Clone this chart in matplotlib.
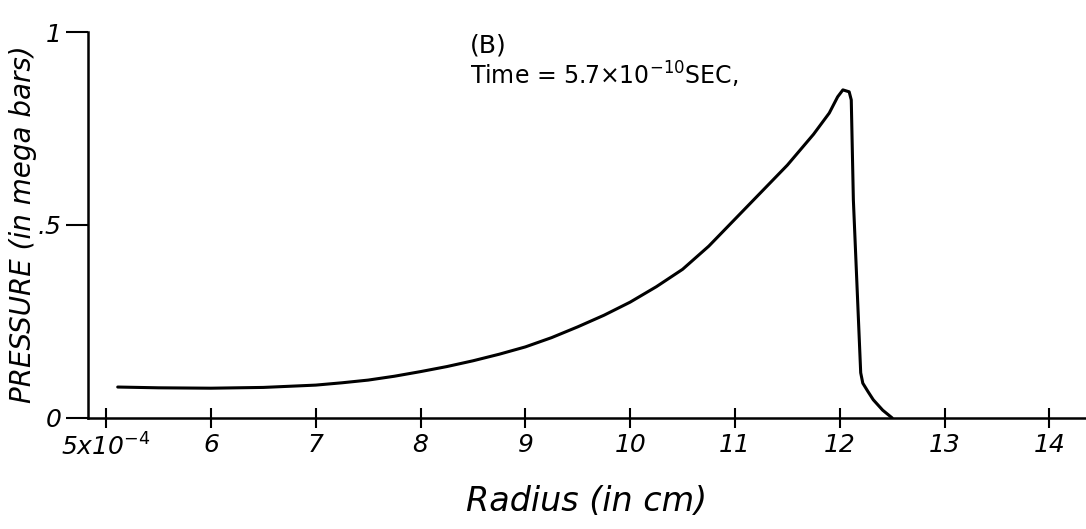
import matplotlib
matplotlib.use("Agg")
import matplotlib.pyplot as plt

# Pressure profile behind the shock front, radius in cm, pressure in megabars
radius = [5.11, 5.5, 6.0, 6.5, 7.0, 7.25, 7.5, 7.75, 8.0, 8.25, 8.5, 8.75,
          9.0, 9.25, 9.5, 9.75, 10.0, 10.25, 10.5, 10.75, 11.0, 11.25,
          11.5, 11.75, 11.9, 11.98, 12.03, 12.09, 12.11, 12.13,
          12.2, 12.22, 12.27, 12.32, 12.41, 12.5]
pressure = [0.080, 0.078, 0.077, 0.079, 0.085, 0.091, 0.098, 0.108, 0.120,
            0.133, 0.148, 0.165, 0.184, 0.208, 0.236, 0.266, 0.300, 0.340,
            0.385, 0.445, 0.515, 0.585, 0.655, 0.735, 0.790, 0.832, 0.850,
            0.845, 0.824, 0.565, 0.117, 0.090, 0.068, 0.047, 0.020, 0.0]

x_ticks = [5, 6, 7, 8, 9, 10, 11, 12, 13, 14]
x_tick_labels = [r"5x10$^{-4}$", "6", "7", "8", "9", "10", "11", "12", "13", "14"]
y_ticks = [0, 0.5, 1]
y_tick_labels = ["0", ".5", "1"]

fig = plt.figure(figsize=(10.86, 5.29), dpi=100)
ax = fig.add_axes([0.081, 0.21, 0.919, 0.7295])

ax.plot(radius, pressure, color="black", lw=2.2, solid_capstyle="round",
        solid_joinstyle="round")

ax.set_xlim(4.826, 14.35)
ax.set_ylim(0, 1.0)

ax.spines["top"].set_visible(False)
ax.spines["right"].set_visible(False)
for s in ("left", "bottom"):
    ax.spines[s].set_linewidth(1.8)

ax.set_xticks(x_ticks)
ax.set_xticklabels(x_tick_labels, fontsize=18, style="italic")
ax.tick_params(axis="x", direction="inout", length=14, width=1.5, pad=4)

ax.set_yticks(y_ticks)
ax.set_yticklabels(y_tick_labels, fontsize=18, style="italic")
ax.tick_params(axis="y", direction="out", length=16, width=1.5, pad=3)

ax.set_xlabel("Radius (in cm)", fontsize=24, style="italic", labelpad=18)
fig.text(0.021, 0.577, "PRESSURE (in mega bars)", fontsize=20,
         style="italic", rotation=90, ha="center", va="center")

ax.text(8.47, 0.965, "(B)", fontsize=18, ha="left", va="center")
ax.text(8.47, 0.89, r"Time = 5.7$\times$10$^{-10}$SEC,", fontsize=17,
        ha="left", va="center")

fig.savefig("out.png", dpi=100)
